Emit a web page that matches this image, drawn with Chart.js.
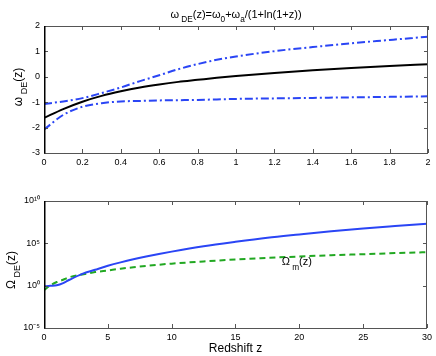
<!DOCTYPE html>
<html>
<head>
<meta charset="utf-8">
<script src="https://cdn.jsdelivr.net/npm/chart.js@4.4.0/dist/chart.umd.min.js"></script>
<style>
  body { margin: 0; background: #fff; }
  #wrap { position: relative; width: 436px; height: 356px; }
  .panel { position: absolute; left: 0; }
</style>
</head>
<body>
<div id="wrap">
  <div class="panel" style="top:0"><canvas id="chartW" width="436" height="180"></canvas></div>
  <div class="panel" style="top:180px"><canvas id="chartOmega" width="436" height="176"></canvas></div>
</div>
<script>
// top panel: w_DE(z) with 1-sigma bounds
const zTop = [0, 0.1, 0.2, 0.3, 0.4, 0.5, 0.6, 0.7, 0.8, 0.9, 1.0, 1.2, 1.4, 1.6, 1.8, 2.0];
const wBest = [-1.62, -1.27, -0.98, -0.75, -0.57, -0.42, -0.3, -0.2, -0.12, -0.04, 0.03, 0.15, 0.26, 0.35, 0.43, 0.49];
const wUpper = [-1.07, -0.97, -0.84, -0.64, -0.42, -0.17, 0.06, 0.3, 0.5, 0.67, 0.8, 1.01, 1.17, 1.32, 1.45, 1.58];
const wLower = [-2.08, -1.5, -1.18, -1.04, -0.97, -0.95, -0.93, -0.92, -0.91, -0.89, -0.87, -0.85, -0.83, -0.81, -0.79, -0.77];

// bottom panel: Omega_DE(z) and Omega_m(z)
const zBottom = [0, 0.5, 1, 1.5, 2, 3, 4, 5, 6, 7, 8, 9, 10, 12.5, 15, 17.5, 20, 22.5, 25, 27.5, 30];
const omegaDE = [0.83, 0.95, 1.1, 2.0, 5, 25, 75, 220, 560, 1.3e3, 2.75e3, 5.5e3, 1.05e4, 4.5e4, 1.5e5, 4.5e5, 1.1e6, 2.6e6, 5.6e6, 1.1e7, 2.1e7];
const omegaM = [0.28, 1.1, 2.7, 5, 10, 21, 40, 63, 100, 150, 215, 300, 400, 730, 1.25e3, 1.9e3, 2.8e3, 3.9e3, 5.2e3, 7e3, 9e3];

const yTicksBottom = [1e-5, 1, 1e5, 1e10];
const yTickLabelsBottom = ['10\u207B\u2075', '10\u2070', '10\u2075', '10\u00B9\u2070'];

const FONT = "'Liberation Sans', Arial, sans-serif";

function pts(xs, ys) {
    return xs.map((x, i) => ({ x: x, y: ys[i] }));
}

// draw text made of normal / subscript parts, centred on x
function richText(ctx, parts, x, y, size) {
    let widths = parts.map(p => {
        ctx.font = (p[1] ? size * 0.75 : size) + 'px ' + FONT;
        return ctx.measureText(p[0]).width;
    });
    let total = widths.reduce((a, b) => a + b, 0);
    let cx = x - total / 2;
    parts.forEach((p, i) => {
        ctx.font = (p[1] ? size * 0.75 : size) + 'px ' + FONT;
        ctx.fillText(p[0], cx, p[1] ? y + size * 0.38 : y);
        cx += widths[i];
    });
}

// MATLAB-like box with inward ticks + extra labels
const boxPlugin = {
    id: 'box',
    afterDraw(chart, args, opts) {
        const ctx = chart.ctx;
        const a = chart.chartArea;
        const sx = chart.scales.x, sy = chart.scales.y;
        ctx.save();
        ctx.strokeStyle = '#555';
        ctx.lineWidth = 1;
        ctx.strokeRect(a.left + 0.5, a.top + 0.5, a.right - a.left - 1, a.bottom - a.top);
        ctx.beginPath();
        sx.ticks.forEach(t => {
            let px = Math.round(sx.getPixelForValue(t.value)) + 0.5;
            ctx.moveTo(px, a.bottom); ctx.lineTo(px, a.bottom - 4);
            ctx.moveTo(px, a.top); ctx.lineTo(px, a.top + 4);
        });
        sy.ticks.forEach(t => {
            let py = Math.round(sy.getPixelForValue(t.value)) + 0.5;
            ctx.moveTo(a.left, py); ctx.lineTo(a.left + 4, py);
            ctx.moveTo(a.right, py); ctx.lineTo(a.right - 4, py);
        });
        ctx.stroke();
        ctx.strokeStyle = '#000';
        ctx.lineWidth = 1.5;
        ctx.beginPath();
        ctx.moveTo(a.left + 0.75, a.top); ctx.lineTo(a.left + 0.75, a.bottom + 0.5);
        ctx.stroke();

        ctx.fillStyle = '#000';
        ctx.textBaseline = 'alphabetic';
        ctx.textAlign = 'left';
        if (opts.title) {
            richText(ctx, opts.title, (a.left + a.right) / 2, opts.titleY, 11);
        }
        if (opts.ylabel) {
            ctx.save();
            ctx.translate(opts.ylabelX, opts.ylabelY);
            ctx.rotate(-Math.PI / 2);
            richText(ctx, opts.ylabel, 0, 0, 12);
            ctx.restore();
        }
        if (opts.xlabel) {
            ctx.font = '12px ' + FONT;
            ctx.textAlign = 'center';
            ctx.fillText(opts.xlabel, (a.left + a.right) / 2, opts.xlabelY);
            ctx.textAlign = 'left';
        }
        if (opts.note) {
            let px = sx.getPixelForValue(opts.note.x);
            let py = sy.getPixelForValue(opts.note.y);
            richText(ctx, opts.note.parts, px, py, 11);
        }
        ctx.restore();
    }
};

const tickFont = { family: FONT, size: 9 };

new Chart(document.getElementById('chartW'), {
    type: 'line',
    data: {
        datasets: [{
            data: pts(zTop, wUpper),
            borderColor: '#2a45f5',
            borderWidth: 2,
            borderDash: [8, 3, 2, 3],
            pointRadius: 0,
            cubicInterpolationMode: 'monotone'
        }, {
            data: pts(zTop, wLower),
            borderColor: '#2a45f5',
            borderWidth: 2,
            borderDash: [8, 3, 2, 3],
            pointRadius: 0,
            cubicInterpolationMode: 'monotone'
        }, {
            data: pts(zTop, wBest),
            borderColor: '#000',
            borderWidth: 2,
            pointRadius: 0,
            cubicInterpolationMode: 'monotone'
        }]
    },
    options: {
        responsive: false,
        animation: false,
        layout: { padding: { top: 26, right: 8, left: 0, bottom: 0 } },
        plugins: {
            legend: { display: false },
            tooltip: { enabled: false },
            box: {
                title: [['\u03C9', 0], [' DE', 1], ['(z)=\u03C9', 0], ['0', 1], ['+\u03C9', 0], ['a', 1], ['/(1+ln(1+z))', 0]],
                titleY: 18,
                ylabel: [['\u03C9', 0], [' DE', 1], ['(z)', 0]],
                ylabelX: 22,
                ylabelY: 87
            }
        },
        scales: {
            x: {
                type: 'linear',
                min: 0, max: 2,
                grid: { display: false, drawTicks: false },
                border: { display: false },
                ticks: {
                    stepSize: 0.2,
                    padding: 4,
                    color: '#000',
                    font: tickFont,
                    maxRotation: 0,
                    callback: v => String(Number(v.toFixed(1)))
                },
                afterFit: s => { s.height = 27; }
            },
            y: {
                min: -3, max: 2,
                grid: { display: false, drawTicks: false },
                border: { display: false },
                ticks: {
                    stepSize: 1,
                    padding: 4,
                    color: '#000',
                    font: tickFont,
                    callback: v => String(v)
                },
                afterFit: s => { s.width = 44; }
            }
        }
    },
    plugins: [boxPlugin]
});

new Chart(document.getElementById('chartOmega'), {
    type: 'line',
    data: {
        datasets: [{
            data: pts(zBottom, omegaDE),
            borderColor: '#2a45f5',
            borderWidth: 2,
            pointRadius: 0,
            cubicInterpolationMode: 'monotone'
        }, {
            data: pts(zBottom, omegaM),
            borderColor: '#22a822',
            borderWidth: 2,
            borderDash: [6, 4],
            pointRadius: 0,
            cubicInterpolationMode: 'monotone'
        }]
    },
    options: {
        responsive: false,
        animation: false,
        layout: { padding: { top: 21, right: 8, left: 0, bottom: 0 } },
        plugins: {
            legend: { display: false },
            tooltip: { enabled: false },
            box: {
                ylabel: [['\u03A9', 0], [' DE', 1], ['(z)', 0]],
                ylabelX: 15,
                ylabelY: 90,
                xlabel: 'Redshift z',
                xlabelY: 172,
                note: { x: 19.8, y: 250, parts: [['\u03A9', 0], [' m', 1], ['(z)', 0]] }
            }
        },
        scales: {
            x: {
                type: 'linear',
                min: 0, max: 30,
                grid: { display: false, drawTicks: false },
                border: { display: false },
                ticks: {
                    stepSize: 5,
                    padding: 4,
                    color: '#000',
                    font: tickFont,
                    maxRotation: 0
                },
                afterFit: s => { s.height = 28; }
            },
            y: {
                type: 'logarithmic',
                min: 1e-5, max: 1e10,
                grid: { display: false, drawTicks: false },
                border: { display: false },
                afterBuildTicks: s => { s.ticks = yTicksBottom.map(v => ({ value: v })); },
                ticks: {
                    padding: 4,
                    color: '#000',
                    font: tickFont,
                    callback: v => yTickLabelsBottom[yTicksBottom.indexOf(v)]
                },
                afterFit: s => { s.width = 44; }
            }
        }
    },
    plugins: [boxPlugin]
});
</script>
</body>
</html>
